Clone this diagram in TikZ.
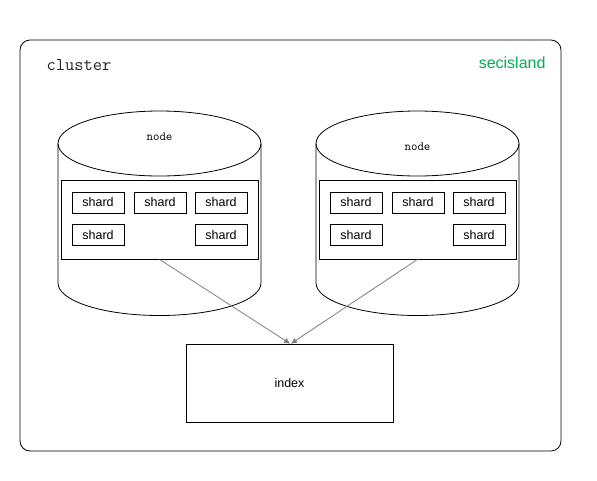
\documentclass[tikz,border=0pt]{standalone}
\usepackage{fontspec}
\setmainfont{Liberation Sans}
\usetikzlibrary{arrows.meta,positioning,calc}
\definecolor{islandgreen}{RGB}{0,176,80}
\tikzset{
  box/.style={draw, line width=0.8pt, rectangle, inner sep=0pt},
  shard/.style={box, minimum width=52pt, minimum height=21pt, font=\fontsize{12.5}{14}\selectfont},
  group/.style={box, minimum width=197pt, minimum height=79pt},
  link/.style={draw=black!50, line width=0.8pt, -{Triangle[length=6pt,width=5pt]}},
}
\begin{document}
\begin{tikzpicture}[x=1pt,y=-1pt]
\useasboundingbox (0,0) rectangle (597,480);

% Draw cluster.
\draw[line width=0.8pt, rounded corners=10pt] (20,40) rectangle (561,451);
\node[anchor=west, text=black!85, font=\ttfamily\fontsize{18}{20}\selectfont] (cluster) at (43,65) {cluster};
\node[anchor=east, text=islandgreen, font=\fontsize{16}{18}\selectfont] (brand) at (549,63) {secisland};

% Draw nodes.
\foreach \cx/\ty in {159.5/137, 417.5/147} {
  \draw[line width=0.8pt, fill=white] ($(\cx,143.5)+(-101.5pt,0)$) -- ($(\cx,283)+(-101.5pt,0)$)
    arc (180:360:101.5pt and 32.5pt) -- ($(\cx,143.5)+(101.5pt,0)$);
  \draw[line width=0.8pt] (\cx,143.5) ellipse [x radius=101.5pt, y radius=32.5pt];
  \node[font=\ttfamily\fontsize{12.5}{14}\selectfont] at (\cx,\ty) {node};
}

% Draw shard groups.
\node[group] (groupL) at (159.5,219.5) {};
\node[group] (groupR) at (417.5,219.5) {};

\node[shard] (sL1) at (98,202.5) {shard};
\node[shard] (sL2) at (160,202.5) {shard};
\node[shard] (sL3) at (221,202.5) {shard};
\node[shard] (sL4) at (98,235) {shard};
\node[shard] (sL5) at (221,235) {shard};

\node[shard] (sR1) at (356,202.5) {shard};
\node[shard] (sR2) at (418,202.5) {shard};
\node[shard] (sR3) at (479,202.5) {shard};
\node[shard] (sR4) at (356,235) {shard};
\node[shard] (sR5) at (479,235) {shard};

% Draw index.
\node[box, minimum width=207pt, minimum height=78pt, font=\fontsize{12.5}{14}\selectfont] (index) at (289.5,383) {index};

% Draw links.
\draw[link] (groupL.south) -- ($(index.north)+(0.5pt,0)$);
\draw[link] (groupR.south) -- ($(index.north)+(1.5pt,0)$);
\end{tikzpicture}
\end{document}
